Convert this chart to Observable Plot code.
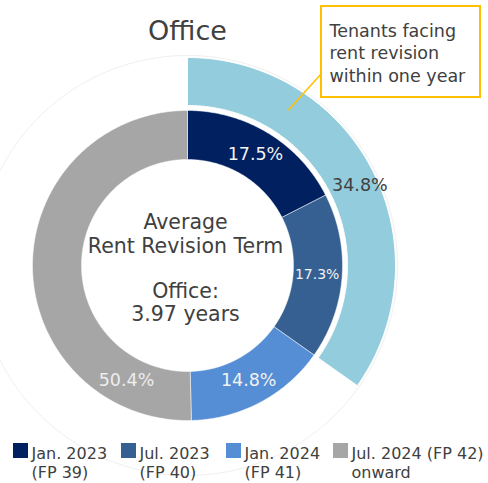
<!DOCTYPE html>
<html>
<head>
<meta charset="utf-8">
<script src="https://cdn.jsdelivr.net/npm/d3@7"></script>
<script src="https://cdn.jsdelivr.net/npm/@observablehq/plot@0.6"></script>
<style>
  html, body { margin: 0; padding: 0; background: #fff; }
  svg { font-family: "DejaVu Sans", Verdana, sans-serif; }
</style>
</head>
<body>
<div id="chart"></div>
<script>
// ---- data ----
const title = "Office";
const categories = ["Jan. 2023 (FP 39)", "Jul. 2023 (FP 40)", "Jan. 2024 (FP 41)", "Jul. 2024 (FP 42) onward"];
const legendLine1 = ["Jan. 2023", "Jul. 2023", "Jan. 2024", "Jul. 2024 (FP 42)"];
const legendLine2 = ["(FP 39)", "(FP 40)", "(FP 41)", "onward"];
const shares = [17.5, 17.3, 14.8, 50.4];
const colors = ["#002060", "#366092", "#558ED5", "#A6A6A6"];
const withinOneYear = 34.8;
const withinOneYearColor = "#93CDDD";
const calloutLines = ["Tenants facing", "rent revision", "within one year"];
const centerLines = ["Average", "Rent Revision Term", "Office:", "3.97 years"];

// ---- layout ----
const W = 488, H = 483;
const CX = 187, CY = 265;
const R_IN0 = 106, R_IN1 = 155, R_OUT0 = 160, R_OUT1 = 208;
const toXY = (deg, r) => [CX + r * Math.sin(deg * Math.PI / 180), CY - r * Math.cos(deg * Math.PI / 180)];

function arcPoly(a0, a1, r0, r1, key, color) {
  const pts = [];
  const n = Math.max(2, Math.ceil((a1 - a0) / 0.5));
  for (let i = 0; i <= n; i++) { const [x, y] = toXY(a0 + (a1 - a0) * i / n, r1); pts.push({x, y, key, color}); }
  for (let i = n; i >= 0; i--) { const [x, y] = toXY(a0 + (a1 - a0) * i / n, r0); pts.push({x, y, key, color}); }
  pts.push({...pts[0]});
  return pts;
}

// inner ring segments
let cum = 0;
const segs = shares.map((v, i) => {
  const a0 = cum / 100 * 360; cum += v; const a1 = cum / 100 * 360;
  return {cat: categories[i], value: v, a0, a1, color: colors[i]};
});
const innerPts = segs.flatMap((s, i) => arcPoly(s.a0, s.a1, R_IN0, R_IN1, "in" + i, s.color));
const outerPts = arcPoly(0, withinOneYear / 100 * 360, R_OUT0, R_OUT1, "out", withinOneYearColor);

// faint outline circle
const faint = d3.range(0, 361, 1).map(a => { const [x, y] = toXY(a, 210); return {x, y}; });

// labels
const labelAngleOverride = [null, null, null, 208];
const labelSizes = [17.5, 14, 17.5, 17.5];
const innerLabels = segs.map((s, i) => {
  const a = labelAngleOverride[i] ?? (s.a0 + s.a1) / 2;
  const [x, y] = toXY(a, 130);
  return {x, y, text: s.value.toFixed(1) + "%", size: labelSizes[i], fill: i === 3 ? "#EDEDED" : "#F2F2F2"};
});
const outerLabel = (() => {
  const [x, y] = toXY(withinOneYear / 100 * 360 / 2 + 2.5, 190);
  return [{x, y, text: withinOneYear.toFixed(1) + "%"}];
})();

const centerBaselines = [228, 252, 297, 320];
const centerData = centerLines.map((t, i) => ({t, y: centerBaselines[i]}));
const calloutBaselines = [36, 58, 81];
const calloutData = calloutLines.map((t, i) => ({t, y: calloutBaselines[i]}));
const leaderStart = [321, 73];
const leaderEnd = toXY(33, 185);

const legendX = [13, 121, 226, 333];
const legendData = categories.map((c, i) => ({x: legendX[i], l1: legendLine1[i], l2: legendLine2[i], color: colors[i]}));

const textColor = "#404040";

const chart = Plot.plot({
  width: W, height: H, margin: 0,
  x: {domain: [0, W], range: [0, W], axis: null},
  y: {domain: [0, H], range: [0, H], axis: null},
  color: {type: "identity"},
  marks: [
    Plot.line(faint, {x: "x", y: "y", stroke: "#EFEFEF", strokeWidth: 1}),
    Plot.line(outerPts, {x: "x", y: "y", z: "key", fill: "color", stroke: "white", strokeWidth: 1}),
    Plot.line(innerPts, {x: "x", y: "y", z: "key", fill: "color", stroke: "white", strokeWidth: 0.8, strokeOpacity: 0.6}),
    Plot.text(innerLabels, {x: "x", y: "y", text: "text", fill: "fill", fontSize: "size", textAnchor: "middle", lineAnchor: "middle"}),
    Plot.text(outerLabel, {x: "x", y: "y", text: "text", fill: textColor, fontSize: 17.5, textAnchor: "middle", lineAnchor: "middle"}),
    Plot.text([title], {x: CX, y: 39, text: d => d, fill: textColor, fontSize: 27, textAnchor: "middle", lineAnchor: "bottom"}),
    Plot.text(centerData, {x: 185, y: "y", text: "t", fill: textColor, fontSize: 20.5, textAnchor: "middle", lineAnchor: "bottom", letterSpacing: "0.3px"}),
    Plot.link([0], {x1: leaderStart[0], y1: leaderStart[1], x2: leaderEnd[0], y2: leaderEnd[1], stroke: "#FFC000", strokeWidth: 1.5}),
    Plot.rect([0], {x1: 321, x2: 480, y1: 6, y2: 97, fill: "white", stroke: "#FFC000", strokeWidth: 2}),
    Plot.text(calloutData, {x: 329, y: "y", text: "t", fill: textColor, fontSize: 17.5, textAnchor: "start", lineAnchor: "bottom"}),
    Plot.rect(legendData, {x1: "x", x2: d => d.x + 15, y1: 443, y2: 458, fill: "color"}),
    Plot.text(legendData, {x: d => d.x + 18, y: 458, text: "l1", fill: textColor, fontSize: 16, textAnchor: "start", lineAnchor: "bottom"}),
    Plot.text(legendData, {x: d => d.x + 18, y: 477, text: "l2", fill: textColor, fontSize: 16, textAnchor: "start", lineAnchor: "bottom"})
  ]
});
document.getElementById("chart").appendChild(chart);
</script>
</body>
</html>
